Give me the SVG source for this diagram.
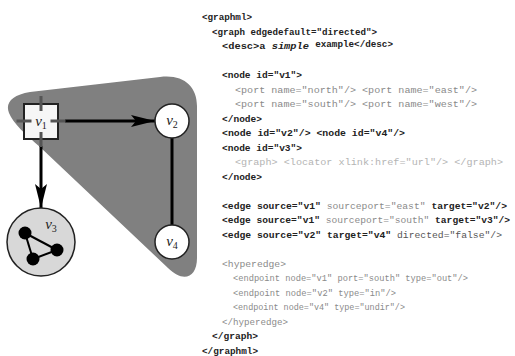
<svg xmlns="http://www.w3.org/2000/svg" width="515" height="356" viewBox="0 0 515 356">
<style>
.t{font-family:"Liberation Mono","DejaVu Sans Mono",monospace;font-size:9.5px;white-space:pre}
.k{fill:#222;font-weight:bold}
.g{fill:#8a8a8a}
.l{fill:#b4b4b4}
.m{fill:#555}
.lab{font-family:"Liberation Serif","DejaVu Serif",serif;font-style:italic;font-size:15px;fill:#222}
.sub{font-size:10px;font-style:normal}
.edge{stroke:#000;stroke-width:3;fill:none}
.port{stroke:#555;stroke-width:3}
.circ{fill:#fff;stroke:#222;stroke-width:1.5}
</style>
<defs>
<marker id="arr" markerUnits="userSpaceOnUse" markerWidth="26" markerHeight="14" refX="24" refY="7" orient="auto">
<path d="M0,1 L24,7 L0,13 L5,7 Z" fill="#000"/>
</marker>
</defs>
<g id="hyperedge">
<path d="M9,113 C5,103 12,95 30,92 L160,77 C183,74 197,86 197,106 L197,258 C197,278 183,283 168,268 L40,147 C25,134 13,123 9,113 Z" fill="#808080"/>
</g>
<g id="connectors">
<line class="edge" x1="65" y1="121" x2="155" y2="121" marker-end="url(#arr)"/>
<line class="edge" x1="41" y1="146" x2="41" y2="208" marker-end="url(#arr)"/>
<line class="edge" x1="172" y1="138" x2="172" y2="225"/>
</g>
<g id="v1">
<rect x="24" y="104" width="34" height="35" fill="#f6f6f6" stroke="#222" stroke-width="2"/>
<line class="port" x1="41" y1="96" x2="41" y2="111"/>
<line class="port" x1="41" y1="132" x2="41" y2="147"/>
<line class="port" x1="16.5" y1="121" x2="31.5" y2="121"/>
<line class="port" x1="50.5" y1="121" x2="65.5" y2="121"/>
<text class="lab" x="41" y="126" text-anchor="middle">v<tspan class="sub" dy="3">1</tspan></text>
</g>
<g id="v2">
<circle class="circ" cx="172" cy="121" r="17"/>
<text class="lab" x="172" y="125" text-anchor="middle">v<tspan class="sub" dy="3">2</tspan></text>
</g>
<g id="v4">
<circle class="circ" cx="172" cy="242" r="17"/>
<text class="lab" x="172" y="246" text-anchor="middle">v<tspan class="sub" dy="3">4</tspan></text>
</g>
<g id="v3">
<circle cx="41" cy="242" r="34" fill="#d8d8d8" stroke="#222" stroke-width="1.5"/>
<text class="lab" x="51" y="229" text-anchor="middle">v<tspan class="sub" dy="3">3</tspan></text>
<g stroke="#000" stroke-width="2">
<line x1="25" y1="233" x2="57" y2="250"/>
<line x1="25" y1="233" x2="33" y2="259"/>
<line x1="33" y1="259" x2="57" y2="250"/>
</g>
<g fill="#000">
<circle cx="25" cy="233" r="6.5"/>
<circle cx="33" cy="259" r="6.5"/>
<circle cx="57" cy="250" r="6.5"/>
</g>
</g>
<g id="code">
<text class="t k" x="202" y="20" textLength="50" lengthAdjust="spacingAndGlyphs">&lt;graphml&gt;</text>
<text class="t k" x="212" y="34.5" textLength="165" lengthAdjust="spacingAndGlyphs">&lt;graph edgedefault="directed"&gt;</text>
<text class="t k" x="222" y="49" textLength="171" lengthAdjust="spacingAndGlyphs">&lt;desc&gt;a <tspan font-style="italic">simple</tspan> <tspan font-size="8.5" dy="-2">example&lt;/desc&gt;</tspan></text>
<text class="t k" x="222" y="78" textLength="80" lengthAdjust="spacingAndGlyphs">&lt;node id="v1"&gt;</text>
<text class="t g" x="235" y="92.5" textLength="242" lengthAdjust="spacingAndGlyphs">&lt;port name="north"/&gt; &lt;port name="east"/&gt;</text>
<text class="t g" x="235" y="107" textLength="242" lengthAdjust="spacingAndGlyphs">&lt;port name="south"/&gt; &lt;port name="west"/&gt;</text>
<text class="t k" x="222" y="121.5" textLength="40" lengthAdjust="spacingAndGlyphs">&lt;/node&gt;</text>
<text class="t k" x="222" y="136" textLength="183" lengthAdjust="spacingAndGlyphs">&lt;node id="v2"/&gt; &lt;node id="v4"/&gt;</text>
<text class="t k" x="222" y="150.5" textLength="80" lengthAdjust="spacingAndGlyphs">&lt;node id="v3"&gt;</text>
<text class="t l" x="235" y="165" textLength="268" lengthAdjust="spacingAndGlyphs">&lt;graph&gt; &lt;locator xlink:href="url"/&gt; &lt;/graph&gt;</text>
<text class="t k" x="222" y="179.5" textLength="40" lengthAdjust="spacingAndGlyphs">&lt;/node&gt;</text>
<text class="t k" x="222" y="208.5" textLength="285" lengthAdjust="spacingAndGlyphs">&lt;edge source="v1" <tspan class="g" font-weight="normal">sourceport="east"</tspan> target="v2"/&gt;</text>
<text class="t k" x="222" y="223" textLength="288" lengthAdjust="spacingAndGlyphs">&lt;edge source="v1" <tspan class="g" font-weight="normal">sourceport="south"</tspan> target="v3"/&gt;</text>
<text class="t k" x="222" y="237.5" textLength="280" lengthAdjust="spacingAndGlyphs">&lt;edge source="v2" target="v4" <tspan class="m" font-weight="normal">directed="false"/&gt;</tspan></text>
<text class="t g" x="222" y="266.5" textLength="64" lengthAdjust="spacingAndGlyphs">&lt;hyperedge&gt;</text>
<text class="t g" x="233" y="281" textLength="235" lengthAdjust="spacingAndGlyphs">&lt;endpoint node="v1" port="south" type="out"/&gt;</text>
<text class="t g" x="233" y="295.5" textLength="163" lengthAdjust="spacingAndGlyphs">&lt;endpoint node="v2" type="in"/&gt;</text>
<text class="t g" x="233" y="310" textLength="172" lengthAdjust="spacingAndGlyphs">&lt;endpoint node="v4" type="undir"/&gt;</text>
<text class="t g" x="222" y="324.5" textLength="66" lengthAdjust="spacingAndGlyphs">&lt;/hyperedge&gt;</text>
<text class="t k" x="212" y="339" textLength="46" lengthAdjust="spacingAndGlyphs">&lt;/graph&gt;</text>
<text class="t k" x="202" y="353.5" textLength="56" lengthAdjust="spacingAndGlyphs">&lt;/graphml&gt;</text>
</g>
</svg>
